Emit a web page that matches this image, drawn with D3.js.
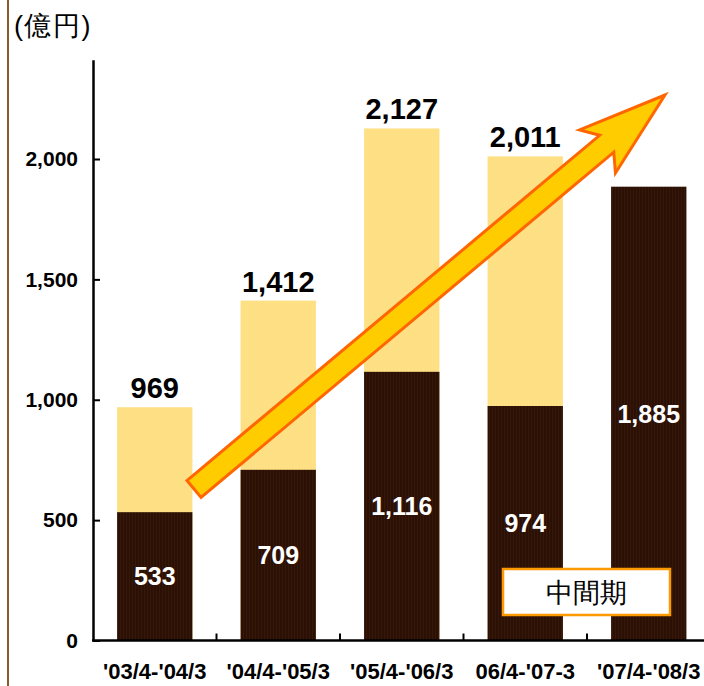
<!DOCTYPE html>
<html>
<head>
<meta charset="utf-8">
<script src="https://cdn.jsdelivr.net/npm/d3@7"></script>
<style>
  html, body { margin: 0; padding: 0; background: #fff; }
  svg { display: block; }
  text { font-family: Arial, "Liberation Sans", sans-serif; }
</style>
</head>
<body>
<div id="chart"></div>
<script>
// fiscal periods on the x axis
const periods = ["'03/4-'04/3", "'04/4-'05/3", "'05/4-'06/3", "06/4-'07-3", "'07/4-'08/3"];
// first half (dark) and full year total (light top), in 億円
const interim = [533, 709, 1116, 974, 1885];
const fullYear = [969, 1412, 2127, 2011, null];
const yTicks = [0, 500, 1000, 1500, 2000];

const width = 704, height = 686;
const darkColor = '#2a1005', lightColor = '#fee083';

const svg = d3.select('#chart')
    .append('svg')
    .attr('width', width)
    .attr('height', height);

// vertical stripe texture for the bars
const defs = svg.append('defs');
function stripes(id, base, line) {
    const p = defs.append('pattern')
        .attr('id', id)
        .attr('patternUnits', 'userSpaceOnUse')
        .attr('width', 3).attr('height', 3);
    p.append('rect').attr('width', 3).attr('height', 3).attr('fill', base);
    p.append('rect').attr('width', 1).attr('height', 3).attr('fill', line);
}
stripes('darkStripe', darkColor, '#361708');
stripes('lightStripe', lightColor, '#fde188');

const x = d3.scaleBand()
    .domain(periods)
    .range([93, 710.5])
    .paddingInner(0.39)
    .paddingOuter(0.195);

const yMax = 2412;
const y = d3.scaleLinear()
    .domain([0, yMax])
    .range([640.5, 640.5 - yMax * 0.24075]);

// brown rule on the left edge
svg.append('line')
    .attr('x1', 8).attr('x2', 8)
    .attr('y1', 0).attr('y2', height)
    .attr('stroke', '#8b5a2b')
    .attr('stroke-width', 2);

// unit label
svg.append('text')
    .attr('x', 14).attr('y', 35)
    .attr('font-size', 27)
    .attr('letter-spacing', 1.5)
    .attr('font-family', '"Noto Sans CJK JP", sans-serif')
    .text('(億円)');

// light part: full year total
svg.append('g').selectAll('rect')
    .data(periods.map((p, i) => ({p, v: fullYear[i]})).filter(d => d.v !== null))
    .enter().append('rect')
    .attr('x', d => x(d.p))
    .attr('width', x.bandwidth())
    .attr('y', d => y(d.v))
    .attr('height', d => y(0) - y(d.v))
    .attr('fill', 'url(#lightStripe)');

// dark part: interim
svg.append('g').selectAll('rect')
    .data(periods.map((p, i) => ({p, v: interim[i]})))
    .enter().append('rect')
    .attr('x', d => x(d.p))
    .attr('width', x.bandwidth())
    .attr('y', d => y(d.v))
    .attr('height', d => y(0) - y(d.v))
    .attr('fill', 'url(#darkStripe)');

// y axis, ticks point inward
const yAxis = svg.append('g')
    .attr('transform', 'translate(93,0)')
    .call(d3.axisLeft(y).tickValues(yTicks).tickSizeInner(-7).tickSizeOuter(0)
        .tickPadding(15).tickFormat(d3.format(',')));
yAxis.select('.domain').attr('stroke', '#000').attr('stroke-width', 2.5);
yAxis.selectAll('.tick line').attr('stroke', '#000').attr('stroke-width', 2);
yAxis.selectAll('.tick text')
    .attr('font-size', 21)
    .attr('font-weight', 'bold')
    .attr('font-family', 'Arial, "Liberation Sans", sans-serif')
    .attr('fill', '#000');

// x axis line with ticks between the bars
svg.append('line')
    .attr('x1', 92).attr('x2', width)
    .attr('y1', y(0)).attr('y2', y(0))
    .attr('stroke', '#000').attr('stroke-width', 2.5);
svg.append('g').selectAll('line')
    .data(periods.slice(1))
    .enter().append('line')
    .attr('x1', d => x(d) - x.step() * x.paddingInner() / 2)
    .attr('x2', d => x(d) - x.step() * x.paddingInner() / 2)
    .attr('y1', y(0)).attr('y2', y(0) - 7)
    .attr('stroke', '#000').attr('stroke-width', 2);

svg.append('g').selectAll('text')
    .data(periods)
    .enter().append('text')
    .attr('x', d => x(d) + x.bandwidth() / 2)
    .attr('y', 679)
    .attr('text-anchor', 'middle')
    .attr('font-size', 22)
    .attr('font-weight', 'bold')
    .text(d => d);

// arrow (drawn along its own axis, then rotated into place)
const tail = [194, 489], tip = [665, 95];
const len = Math.hypot(tip[0] - tail[0], tip[1] - tail[1]);
const ang = Math.atan2(tip[1] - tail[1], tip[0] - tail[0]) * 180 / Math.PI;
const shaftW = 11, headW = 28, headL = 88, notch = 12;
const arrowPts = [
    [0, -shaftW], [len - headL + notch, -shaftW], [len - headL, -headW],
    [len, 0],
    [len - headL, headW], [len - headL + notch, shaftW], [0, shaftW]
];
svg.append('path')
    .attr('transform', `translate(${tail}) rotate(${ang})`)
    .attr('d', d3.line()(arrowPts) + 'Z')
    .attr('fill', '#ffcc00')
    .attr('stroke', '#ff6600')
    .attr('stroke-width', 3)
    .attr('stroke-linejoin', 'miter');

// totals above the bars
svg.append('g').selectAll('text')
    .data(periods.map((p, i) => ({p, v: fullYear[i]})).filter(d => d.v !== null))
    .enter().append('text')
    .attr('x', d => x(d.p) + x.bandwidth() / 2)
    .attr('y', d => y(d.v) - 9)
    .attr('text-anchor', 'middle')
    .attr('font-size', 29)
    .attr('font-weight', 'bold')
    .text(d => d3.format(',')(d.v));

// interim values inside the dark bars
svg.append('g').selectAll('text')
    .data(periods.map((p, i) => ({p, v: interim[i]})))
    .enter().append('text')
    .attr('x', d => x(d.p) + x.bandwidth() / 2)
    .attr('y', d => (y(d.v) + y(0)) / 2)
    .attr('dy', '0.36em')
    .attr('text-anchor', 'middle')
    .attr('font-size', 25)
    .attr('font-weight', 'bold')
    .attr('fill', '#fff')
    .text(d => d3.format(',')(d.v));

// 中間期 legend box
svg.append('rect')
    .attr('x', 503).attr('y', 569)
    .attr('width', 167).attr('height', 46)
    .attr('fill', '#fff')
    .attr('stroke', '#ff9900')
    .attr('stroke-width', 2.5);
svg.append('text')
    .attr('x', 586).attr('y', 592)
    .attr('dy', '0.36em')
    .attr('text-anchor', 'middle')
    .attr('font-size', 27)
    .attr('font-family', '"Noto Sans CJK JP", sans-serif')
    .text('中間期');
</script>
</body>
</html>
